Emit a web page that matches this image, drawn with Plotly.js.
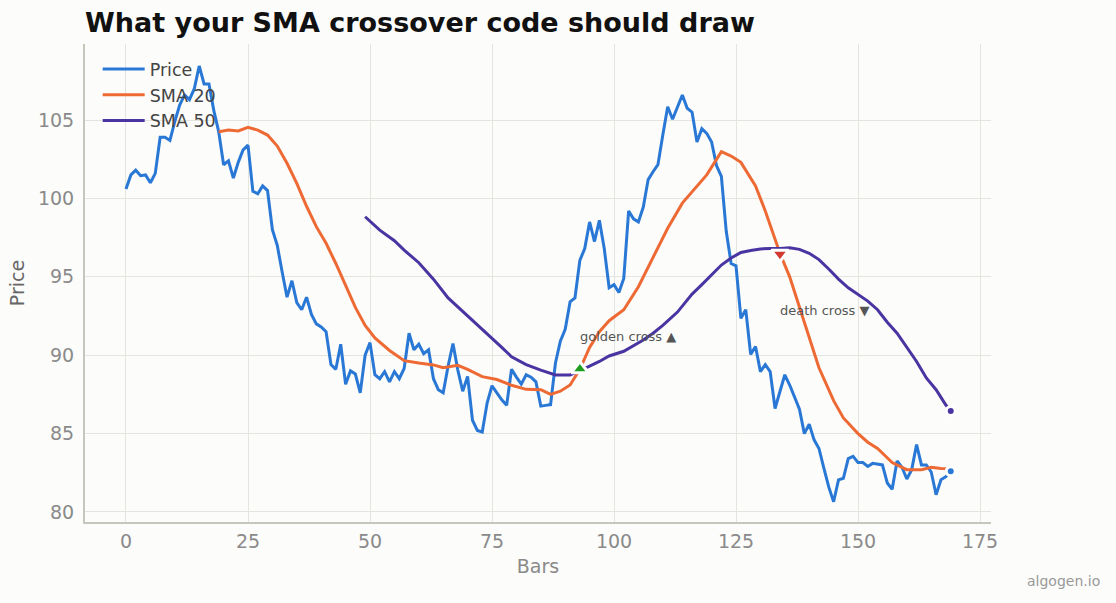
<!DOCTYPE html>
<html>
<head>
<meta charset="utf-8">
<script src="https://cdn.plot.ly/plotly-3.0.1.min.js"></script>
<style>html,body{margin:0;padding:0;background:#fcfcfa;}</style>
</head>
<body>
<div id="chart" style="width:1116px;height:603px;"></div>
<script>
// Price per bar (0..169)
const priceValues = [
100.6,101.5,101.8,101.45,101.5,101.0,101.6,103.9,103.9,103.7,
104.9,105.95,106.6,106.3,107.0,108.45,107.3,107.3,105.6,104.25,
102.15,102.4,101.3,102.3,103.1,103.4,100.45,100.3,100.8,100.5,
98.0,97.0,95.3,93.7,94.75,93.35,92.9,93.7,92.6,92.0,
91.8,91.5,89.4,89.1,90.7,88.15,89.0,88.8,87.6,90.0,
90.8,88.75,88.5,88.95,88.3,88.95,88.5,89.15,91.4,90.35,
90.7,90.1,90.35,88.5,87.8,87.6,89.3,90.75,89.05,87.7,
88.65,85.85,85.2,85.1,86.95,88.05,87.6,87.15,86.8,89.1,
88.6,88.15,88.75,88.6,88.3,86.75,86.8,86.85,89.5,90.9,
91.65,93.4,93.65,96.05,96.8,98.5,97.25,98.6,96.8,94.3,
94.5,94.0,94.9,99.2,98.7,98.5,99.45,101.2,101.7,102.15,
104.05,105.85,105.05,105.85,106.6,105.75,105.5,103.6,104.45,104.15,
103.6,102.1,101.4,97.9,95.85,95.7,92.35,92.9,90.05,90.55,
88.95,89.4,88.95,86.6,87.65,88.75,88.1,87.35,86.55,85.0,
85.6,84.6,84.05,82.8,81.6,80.65,82.05,82.15,83.4,83.55,
83.15,83.15,82.9,83.1,83.05,83.0,81.85,81.45,83.25,82.85,
82.1,82.7,84.3,83.0,83.0,82.55,81.1,82.05,82.25,82.6
];
const priceBars = priceValues.map((_, i) => i);

const sma20Bars = [19,21,23,25,27,29,31,33,35,37,39,41,43,45,47,49,51,54,57,60,63,65,68,70,73,76,79,82,85,87,89,91,93,95,97,99,102,105,108,111,114,117,119,122,124,126,129,131,133,134,136,139,142,145,147,150,152,154,157,160,163,165,167,169];
const sma20Values = [104.25,104.36,104.3,104.53,104.36,104.04,103.34,102.24,100.96,99.5,98.2,97.14,95.85,94.4,93.05,91.9,91.1,90.3,89.65,89.5,89.38,89.2,89.35,89.1,88.63,88.45,88.08,87.82,87.8,87.5,87.7,88.1,89.1,90.5,91.5,92.2,92.9,94.37,96.2,98.1,99.7,100.75,101.5,102.98,102.7,102.3,100.8,99.2,97.4,96.5,95.0,92.03,89.2,87.1,86.0,85.0,84.45,84.05,83.15,82.7,82.7,82.85,82.77,82.75];

const sma50Bars = [49,52,55,57,60,63,66,69,71,74,77,79,82,85,88,91,93,95,97,99,102,104,106,108,110,113,116,118,120,122,124,126,128,130,132,134,136,138,140,142,144,146,148,150,152,154,156,158,160,162,164,166,168,169];
const sma50Values = [98.83,97.98,97.3,96.7,95.9,94.85,93.65,92.8,92.25,91.35,90.5,89.9,89.4,89.05,88.74,88.74,89.0,89.3,89.6,89.95,90.25,90.6,90.97,91.4,91.9,92.75,93.9,94.5,95.1,95.75,96.2,96.55,96.68,96.78,96.8,96.8,96.85,96.75,96.5,96.1,95.5,94.85,94.3,93.9,93.45,92.9,92.1,91.4,90.5,89.6,88.55,87.8,86.82,86.44];

// Crossovers
const goldenCross = {bar: 93, value: 89.12, label: 'golden cross ▲', labelValue: 91.22};
const deathCross = {bar: 134, value: 96.45, label: 'death cross ▼', labelValue: 92.82};

const seriesNames = ['Price', 'SMA 20', 'SMA 50'];
const xTicks = [0, 25, 50, 75, 100, 125, 150, 175];
const yTicks = [80, 85, 90, 95, 100, 105];

const C_PRICE = '#2a78d6', C_S20 = '#ee6a34', C_S50 = '#4a34a2';
const BG = '#fcfcfa';

const traces = [
  {x: priceBars, y: priceValues, name: seriesNames[0], mode: 'lines', line: {color: C_PRICE, width: 3}},
  {x: sma20Bars, y: sma20Values, name: seriesNames[1], mode: 'lines', line: {color: C_S20, width: 3}},
  {x: sma50Bars, y: sma50Values, name: seriesNames[2], mode: 'lines', line: {color: C_S50, width: 3}},
  {x: [sma50Bars[sma50Bars.length-1]], y: [sma50Values[sma50Values.length-1]], mode: 'markers', showlegend: false,
   marker: {color: C_S50, size: 9, line: {color: 'white', width: 3}}},
  {x: [priceBars[priceBars.length-1]], y: [priceValues[priceValues.length-1]], mode: 'markers', showlegend: false,
   marker: {color: C_PRICE, size: 9, line: {color: 'white', width: 3}}},
  {x: [goldenCross.bar], y: [goldenCross.value], mode: 'markers', showlegend: false,
   marker: {symbol: 'triangle-up', color: '#1e9e1e', size: 15, line: {color: 'white', width: 3}}},
  {x: [deathCross.bar], y: [deathCross.value], mode: 'markers', showlegend: false,
   marker: {symbol: 'triangle-down', color: '#d23a30', size: 15, line: {color: 'white', width: 3}}}
];

const axisCommon = {
  showgrid: true, gridcolor: '#e5e5df', gridwidth: 1,
  showline: true, linecolor: '#c6c6bc', linewidth: 2,
  zeroline: false, ticks: 'outside', tickcolor: BG,
  tickfont: {size: 19, color: '#8a8a8a'}
};

const layout = {
  width: 1116, height: 603,
  paper_bgcolor: BG, plot_bgcolor: BG,
  font: {family: 'DejaVu Sans', color: '#444'},
  margin: {l: 85, r: 125, t: 44, b: 81},
  title: {text: 'What your SMA crossover code should draw', font: {size: 27, color: '#111', weight: 'bold'},
          x: 0, xref: 'paper', xanchor: 'left', y: 1 - 23/603, yref: 'container', yanchor: 'middle'},
  xaxis: Object.assign({}, axisCommon, {range: [-8.4, 177.25], tickvals: xTicks, ticklen: 1,
    title: {text: 'Bars', font: {size: 19, color: '#8a8a8a'}, standoff: 9}}),
  yaxis: Object.assign({}, axisCommon, {range: [79.36, 109.85], tickvals: yTicks, ticklen: 5,
    title: {text: 'Price', font: {size: 19, color: '#666'}, standoff: 8}}),
  legend: {x: 0.014, y: 0.985, xanchor: 'left', yanchor: 'top', bgcolor: 'rgba(0,0,0,0)',
           font: {size: 17.5, color: '#444'}, itemwidth: 42},
  showlegend: true,
  annotations: [
    {x: goldenCross.bar, y: goldenCross.labelValue, text: goldenCross.label, showarrow: false, xshift: -2,
     xanchor: 'left', yanchor: 'middle', font: {size: 13, color: '#555'}},
    {x: deathCross.bar, y: deathCross.labelValue, text: deathCross.label, showarrow: false, xshift: -2,
     xanchor: 'left', yanchor: 'middle', font: {size: 13, color: '#555'}},
    {xref: 'paper', yref: 'paper', x: (1102-85)/906, y: (522-581)/478, text: 'algogen.io', showarrow: false,
     xanchor: 'right', yanchor: 'middle', font: {size: 14, color: '#999'}}
  ]
};

Plotly.newPlot('chart', traces, layout, {displayModeBar: false, responsive: false});
</script>
</body>
</html>
